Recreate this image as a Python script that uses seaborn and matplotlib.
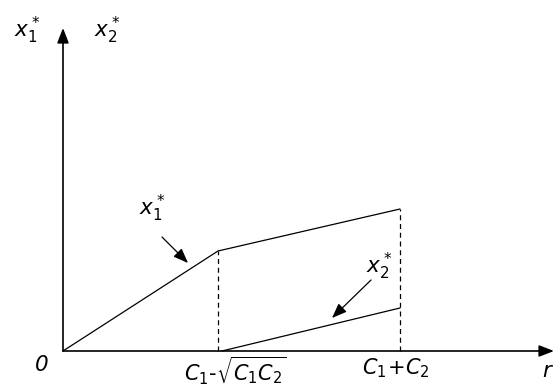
import matplotlib
matplotlib.use("Agg")
import matplotlib.pyplot as plt
import seaborn as sns
import pandas as pd

# Interest-rate thresholds on the r axis
r_kink = 1.55        # C1 - sqrt(C1*C2)
r_end = 3.37         # C1 + C2

# Optimal x1* path: rises to the kink, then flatter up to C1 + C2
x1_r = [0.0, r_kink, r_end]
x1_val = [0.0, 1.00, 1.42]

# Optimal x2* path: zero until the kink, then rising up to C1 + C2
x2_r = [r_kink + 0.04, r_end]
x2_val = [0.0, 0.43]

r_tick_labels = [r"$C_1\text{-}\sqrt{C_1C_2}$", r"$C_1\!+\!C_2$"]

sns.set_style("white")
plt.rcParams["mathtext.fontset"] = "dejavusans"

fig = plt.figure(figsize=(5.55, 3.88), dpi=100)
ax = fig.add_axes([0, 0, 1, 1])
ax.set_xlim(-0.63, 4.92)
ax.set_ylim(-0.37, 3.51)
ax.axis("off")

df1 = pd.DataFrame({"r": x1_r, "x": x1_val})
df2 = pd.DataFrame({"r": x2_r, "x": x2_val})
sns.lineplot(data=df1, x="r", y="x", ax=ax, color="black", lw=0.9, sort=False)
sns.lineplot(data=df2, x="r", y="x", ax=ax, color="black", lw=0.9, sort=False)

# Dashed verticals at the two thresholds
ax.vlines([r_kink, r_end], 0, [x1_val[1], x1_val[2]], colors="black",
          linestyles=(0, (4, 3)), lw=0.9)

# Coordinate axes with filled arrowheads
arrow = dict(arrowstyle="-|>,head_length=0.9,head_width=0.35", color="black",
             lw=1.2, shrinkA=0, shrinkB=0)
ax.annotate("", xy=(4.91, 0), xytext=(0, 0), arrowprops=arrow)
ax.annotate("", xy=(0, 3.23), xytext=(0, 0), arrowprops=arrow)

txt = dict(fontsize=15.5, color="black", style="italic")
ax.text(-0.36, 3.21, r"$x_1^*$", ha="center", va="center", **txt)
ax.text(0.44, 3.21, r"$x_2^*$", ha="center", va="center", **txt)
ax.text(-0.21, -0.14, "0", ha="center", va="center", **txt)
ax.text(4.85, -0.20, r"$r$", ha="center", va="center", **txt)
ax.text(1.72, -0.035, r_tick_labels[0], ha="center", va="top", fontsize=15,
        color="black", style="italic")
ax.text(r_end - 0.04, -0.05, r_tick_labels[1], ha="center", va="top", fontsize=15,
        color="black", style="italic")

# Curve labels with pointers
pointer = dict(arrowstyle="-|>,head_length=0.9,head_width=0.35", color="black",
               lw=0.9, shrinkA=0, shrinkB=0)
ax.text(0.89, 1.43, r"$x_1^*$", ha="center", va="center", **txt)
ax.annotate("", xy=(1.25, 0.88), xytext=(0.99, 1.14), arrowprops=pointer)
ax.text(3.16, 0.85, r"$x_2^*$", ha="center", va="center", **txt)
ax.annotate("", xy=(2.69, 0.33), xytext=(3.08, 0.71), arrowprops=pointer)

fig.savefig("out.png", dpi=100)
